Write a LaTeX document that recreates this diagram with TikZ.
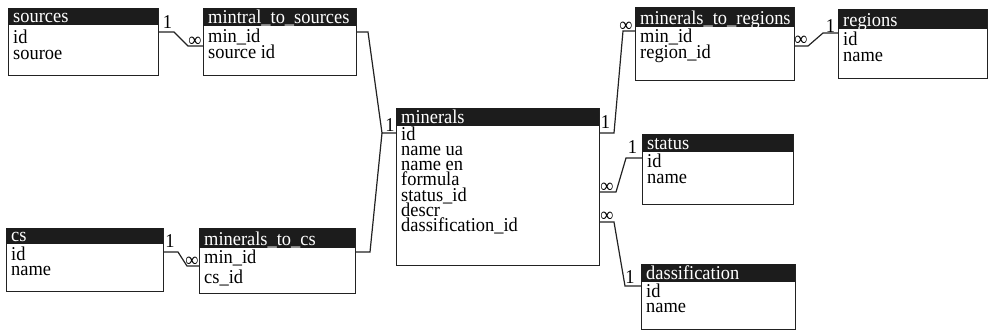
\documentclass[tikz,border=0pt]{standalone}
\usepackage{fontspec}
\setmainfont{Liberation Serif}[FakeStretch=0.94]
\newcommand\tfont{\fontsize{19.6}{15}\selectfont}
\definecolor{headc}{HTML}{1C1C1C}
\definecolor{linec}{HTML}{222222}
\tikzset{
  tbox/.style={draw=linec, line width=1.2pt, fill=white, inner sep=0pt, anchor=north west},
  thead/.style={fill=headc, inner sep=0pt, anchor=north west},
  ttitle/.style={anchor=base west, inner sep=0pt, text=white, font=\tfont},
  trow/.style={anchor=base west, inner sep=0pt, font=\tfont, text=black},
  card/.style={anchor=base, inner sep=0pt, font=\tfont, text=black},
  conn/.style={draw=linec, line width=1.2pt, line join=miter},
}
% name, x1, y1, x2, y2, yheader, title
\newcommand\dbtbl[7]{%
  \node[tbox, minimum width={(#4-#2)*1pt}, minimum height={(#5-#3)*1pt}] (#1) at (#2,#3) {};
  \node[thead, minimum width={(#4-#2)*1pt}, minimum height={(#6-#3)*1pt}] (#1-h) at (#2,#3) {};
  \node[ttitle] (#1-t) at (#2+5,#6-3) {#7};
}
\begin{document}
\begin{tikzpicture}[x=1pt,y=-1pt]
\useasboundingbox (0,0) rectangle (988,330);

% tables
\dbtbl{sources}{8}{8}{158}{75}{25}{sources}
\node[trow] (sources-r1) at (13,43) {id};
\node[trow] (sources-r2) at (13,59) {souroe};

\dbtbl{mts}{203}{8}{356}{75}{26}{mintral\_to\_sources}
\node[trow] (mts-r1) at (208,42) {min\_id};
\node[trow] (mts-r2) at (208,58) {source id};

\dbtbl{cs}{6}{228}{163}{291}{244}{cs}
\node[trow] (cs-r1) at (11,260) {id};
\node[trow] (cs-r2) at (11,275) {name};

\dbtbl{mtc}{199}{228}{355}{293}{248}{minerals\_to\_cs}
\node[trow] (mtc-r1) at (204,263) {min\_id};
\node[trow] (mtc-r2) at (204,283) {cs\_id};

\dbtbl{min}{396}{108}{599}{265}{126}{minerals}
\node[trow] (min-r1) at (401,140) {id};
\node[trow] (min-r2) at (401,155.3) {name ua};
\node[trow] (min-r3) at (401,170.6) {name en};
\node[trow] (min-r4) at (401,185.9) {formula};
\node[trow] (min-r5) at (401,201.2) {status\_id};
\node[trow] (min-r6) at (401,216.5) {descr};
\node[trow] (min-r7) at (401,231.8) {dassification\_id};

\dbtbl{mtr}{635}{7}{794}{80}{27}{minerals\_to\_regions}
\node[trow] (mtr-r1) at (640,42) {min\_id};
\node[trow] (mtr-r2) at (640,58) {region\_id};

\dbtbl{reg}{838}{9}{987}{78}{29}{regions}
\node[trow] (reg-r1) at (843,45) {id};
\node[trow] (reg-r2) at (843,61) {name};

\dbtbl{st}{642}{134}{793}{204}{152}{status}
\node[trow] (st-r1) at (647,167) {id};
\node[trow] (st-r2) at (647,183) {name};

\dbtbl{cl}{641}{264}{795}{329}{282}{dassification}
\node[trow] (cl-r1) at (646,297) {id};
\node[trow] (cl-r2) at (646,312) {name};

% connectors
\coordinate (j1) at (382,133);
\draw[conn] (sources.east |- 0,32) -- (174,32) -- (188,46) -- (mts.west |- 0,46);
\draw[conn] (mts.east |- 0,32) -- (368,32) -- (j1) -- (min.west |- j1);
\draw[conn] (mtc.east |- 0,252) -- (370,252) -- (j1);
\draw[conn] (cs.east |- 0,252) -- (178,252) -- (187,266) -- (mtc.west |- 0,266);
\draw[conn] (min.east |- 0,133) -- (614,133) -- (623,31) -- (mtr.west |- 0,31);
\draw[conn] (mtr.east |- 0,46) -- (808,46) -- (823,33) -- (reg.west |- 0,33);
\draw[conn] (min.east |- 0,192) -- (616,192) -- (626,158) -- (st.west |- 0,158);
\draw[conn] (min.east |- 0,222) -- (614,222) -- (625,286) -- (cl.west |- 0,286);

% cardinalities
\node[card] (c1a) at (167.5,28) {1};
\node[card] (c1b) at (195,46) {∞};
\node[card] (c2a) at (390,131) {1};
\node[card] (c4a) at (170,247) {1};
\node[card] (c4b) at (192,266) {∞};
\node[card] (c5a) at (605.5,128) {1};
\node[card] (c5b) at (626,31) {∞};
\node[card] (c6a) at (830.5,32) {1};
\node[card] (c6b) at (801,45) {∞};
\node[card] (c7a) at (632.5,153) {1};
\node[card] (c7b) at (607,192) {∞};
\node[card] (c8a) at (630,283) {1};
\node[card] (c8b) at (607,221) {∞};
\end{tikzpicture}
\end{document}
